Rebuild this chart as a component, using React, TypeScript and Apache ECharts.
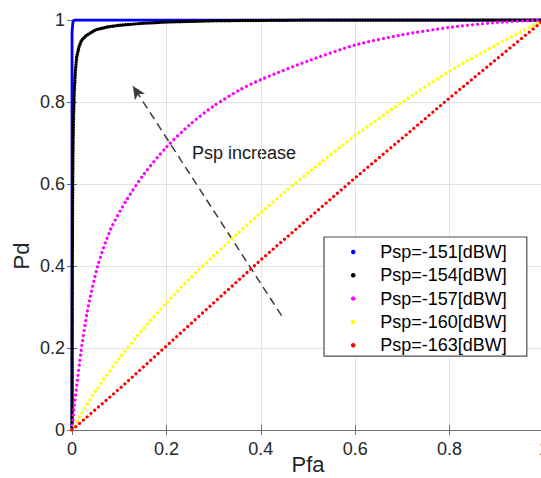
import React, { useEffect, useRef } from "react";
import * as echarts from "echarts";

const FONT = "'Liberation Sans', Arial, Helvetica, sans-serif";

const seriesNames = ["Psp=-151[dBW]", "Psp=-154[dBW]", "Psp=-157[dBW]", "Psp=-160[dBW]", "Psp=-163[dBW]"];
const seriesColors = ["#0000ff", "#000000", "#ff00ff", "#ffff00", "#ff0000"];

const pspMinus151: number[][] = [
  [0, 0], [0, 0.97], [0.002, 0.995], [0.005, 1], [0.05, 1], [0.2, 1], [0.4, 1], [0.6, 1], [0.8, 1], [1, 1],
];
const pspMinus154: number[][] = [
  [0, 0], [0.0005, 0.3], [0.001, 0.5], [0.002, 0.66], [0.003, 0.75], [0.005, 0.83], [0.0075, 0.88],
  [0.01, 0.91], [0.015, 0.935], [0.02, 0.95], [0.03, 0.962], [0.05, 0.976], [0.075, 0.983], [0.1, 0.987],
  [0.15, 0.992], [0.2, 0.995], [0.3, 0.998], [0.4, 0.999], [0.5, 1], [0.7, 1], [1, 1],
];
const pspMinus157: number[][] = [
  [0, 0], [0.005, 0.06], [0.0114, 0.12], [0.0184, 0.185], [0.0326, 0.29], [0.054, 0.398], [0.082, 0.49],
  [0.114, 0.558], [0.153, 0.625], [0.2, 0.69], [0.25, 0.745], [0.3, 0.79], [0.356, 0.83], [0.405, 0.857],
  [0.5, 0.9], [0.6, 0.939], [0.7, 0.964], [0.8, 0.982], [0.9, 0.994], [1, 1],
];
const pspMinus160: number[][] = [
  [0, 0], [0.02, 0.04], [0.05, 0.095], [0.1, 0.175], [0.15, 0.245], [0.2, 0.31], [0.25, 0.37], [0.3, 0.425],
  [0.35, 0.478], [0.4, 0.53], [0.45, 0.58], [0.5, 0.627], [0.6, 0.718], [0.7, 0.8], [0.8, 0.875], [0.9, 0.94], [1, 1],
];
const pspMinus163: number[][] = [
  [0, 0], [0.1, 0.1], [0.2, 0.205], [0.3, 0.31], [0.4, 0.415], [0.5, 0.515], [0.6, 0.615], [0.7, 0.712],
  [0.8, 0.81], [0.9, 0.905], [1, 1],
];
const seriesData = [pspMinus151, pspMinus154, pspMinus157, pspMinus160, pspMinus163];

// annotation arrow (data coordinates): tail -> head
const arrowTail = [0.444, 0.279];
const arrowHead = [0.129, 0.839];
const annotationText = "Psp increase";

const xTicks = { min: 0, max: 1, interval: 0.2 };
const yTicks = { min: 0, max: 1, interval: 0.2 };

export default function App() {
  const ref = useRef<HTMLDivElement>(null);
  useEffect(() => {
    if (!ref.current) return;
    const chart = echarts.init(ref.current, undefined, { renderer: "svg" });
    const axisLineColor = "#6e6e6e";
    const labelColor = "#262626";
    const common = {
      type: "value" as const,
      axisLine: { show: true, lineStyle: { color: axisLineColor, width: 1.2 } },
      axisTick: { show: true, inside: true, length: 5, lineStyle: { color: axisLineColor } },
      splitLine: { show: true, lineStyle: { color: "#e3e3e3", width: 1 } },
    };
    const series: any[] = seriesData.map((d, i) => {
      const isBlue = i === 0;
      const isBlack = i === 1;
      const smooth = i === 2 || i === 3 ? 0.25 : false;
      return {
        name: seriesNames[i],
        type: "line",
        data: d,
        showSymbol: false,
        symbol: "none",
        smooth,
        itemStyle: { color: seriesColors[i] },
        lineStyle: isBlue
          ? { color: seriesColors[i], width: 2.8 }
          : {
              color: seriesColors[i],
              width: isBlack ? 3.4 : 3.2,
              type: isBlack ? [0.01, 2.6] : [0.01, 5],
              cap: "round",
            },
        z: 2 + i,
      };
    });
    series[4].markLine = {
      silent: true,
      symbol: ["none", "arrow"],
      symbolSize: [9, 13],
      label: { show: false },
      lineStyle: { type: [8, 5], color: "#3a3a3a", width: 1.5 },
      data: [[{ coord: arrowTail }, { coord: arrowHead }]],
    };
    chart.setOption({
      animation: false,
      backgroundColor: "#ffffff",
      grid: {
        left: 72,
        top: 20,
        right: -3,
        bottom: 48,
        containLabel: false,
        outerBoundsMode: "none",
      },
      xAxis: [
        {
          ...common,
          ...xTicks,
          position: "bottom",
          name: "Pfa",
          nameLocation: "middle",
          nameGap: 23,
          nameMoveOverlap: false,
          nameTextStyle: { fontSize: 22, color: labelColor, fontFamily: FONT },
          axisLabel: { fontSize: 18, color: labelColor, fontFamily: FONT, margin: 10 },
        },
        {
          ...common,
          ...xTicks,
          position: "top",
          splitLine: { show: false },
          axisLabel: { show: false },
        },
      ],
      yAxis: [
        {
          ...common,
          ...yTicks,
          position: "left",
          axisLabel: { fontSize: 18, color: labelColor, fontFamily: FONT, margin: 7 },
        },
        {
          ...common,
          ...yTicks,
          position: "right",
          splitLine: { show: false },
          axisLabel: { show: false },
        },
      ],
      legend: {
        orient: "vertical",
        left: 324,
        top: 237,
        padding: [6, 20, 2, 27],
        itemWidth: 44,
        itemHeight: 4.5,
        itemGap: 5.3,
        icon: "circle",
        borderColor: "#4d4d4d",
        borderWidth: 1.2,
        backgroundColor: "#ffffff",
        textStyle: { fontSize: 18, lineHeight: 18, color: "#000", fontFamily: FONT },
        data: seriesNames,
      },
      graphic: [
        {
          type: "text",
          x: 21,
          y: 256,
          rotation: Math.PI / 2,
          style: {
            text: "Pd",
            fill: labelColor,
            font: `22px ${FONT}`,
            align: "center",
            verticalAlign: "middle",
          },
        },
        {
          type: "text",
          x: 192,
          y: 153,
          style: {
            text: annotationText,
            fill: "#1a1a1a",
            font: `18px ${FONT}`,
            align: "left",
            verticalAlign: "middle",
          },
        },
      ],
      series,
    });
    return () => chart.dispose();
  }, []);
  return (
    <div
      ref={ref}
      style={{ position: "fixed", left: 0, top: 0, width: 541, height: 478, background: "#fff" }}
    />
  );
}
